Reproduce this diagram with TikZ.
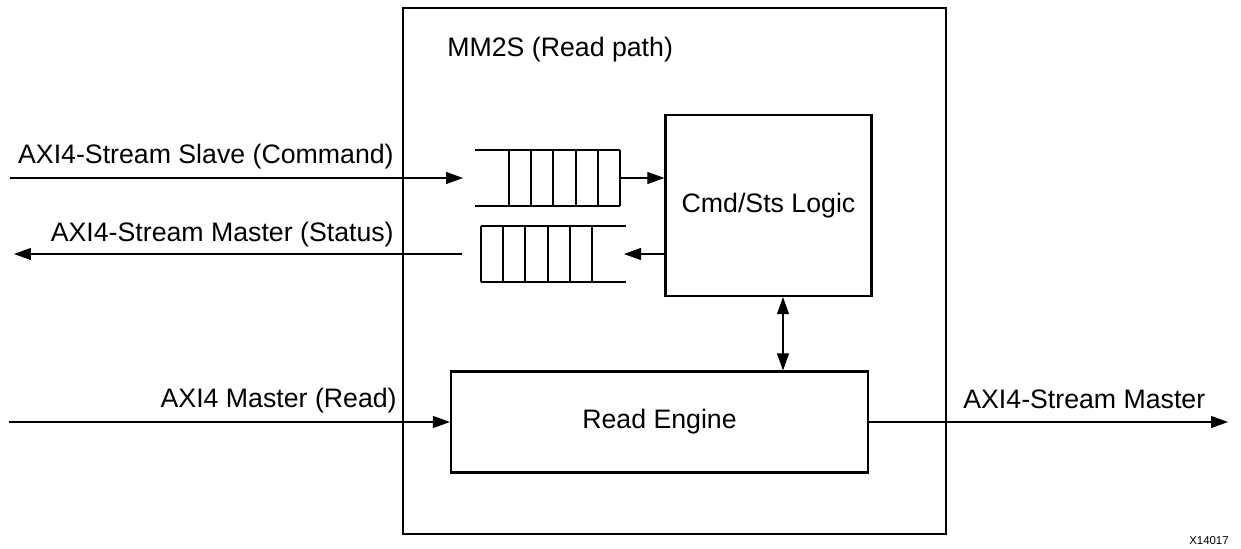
\documentclass[tikz,border=0pt]{standalone}
\usepackage{fontspec}
\setmainfont{Liberation Sans}
\usepackage{tikz}
\usetikzlibrary{arrows.meta, positioning, calc}

\begin{document}
\begin{tikzpicture}[x=0.02cm, y=-0.02cm,
    lbl/.style={font=\fontsize{15.2}{18}\selectfont, inner sep=0pt},
    blk/.style={draw, line width=1.3pt, lbl},
    sig/.style={line width=0.6pt, -{Triangle[length=3.4mm, width=2.4mm]}},
    fifo/.style={line width=1.1pt}]
        \useasboundingbox (0,0) rectangle (1241,548);

        % MM2S outer block
        \draw[line width=1.4pt] (403,8) rectangle (946,534);
        \node[lbl, anchor=west] (title) at (447,50) {MM2S (Read path)};

        \node[blk, minimum width=4.12cm, minimum height=3.62cm] (cmd) at (768.5,205.5) {Cmd/Sts Logic};
        \node[blk, minimum width=8.34cm, minimum height=2.02cm] (read) at (659.5,422) {Read Engine};

        % command fifo (open on the left)
        \draw[fifo] (475,150) -- (620,150) (475,206) -- (620,206);
        \foreach \x in {0,...,5}
            \draw[fifo] (509+22.2*\x,150) -- (509+22.2*\x,206);

        % status fifo (open on the right)
        \draw[fifo] (481,226) -- (626,226) (481,282) -- (626,282);
        \foreach \x in {0,...,5}
            \draw[fifo] (481+22.2*\x,226) -- (481+22.2*\x,282);

        \coordinate (cmdin) at (10,178);
        \coordinate (q1in) at (463,178);
        \coordinate (q1out) at (620,178);
        \coordinate (q2in) at (624,254);
        \coordinate (q2out) at (462,254);
        \coordinate (stsout) at (14,254);
        \coordinate (rdin) at (9,422);
        \coordinate (strout) at (1228,422);

        \draw[sig] (cmdin) -- (q1in);
        \draw[sig] (q1out) -- (q1out -| cmd.west);
        \draw[sig] (q2in -| cmd.west) -- (q2in);
        \draw[sig] (q2out) -- (stsout);
        \draw[sig] (rdin) -- (read.west);
        \draw[sig] (read.east) -- (strout);
        \draw[sig, {Triangle[length=3.4mm, width=2.4mm]}-{Triangle[length=3.4mm, width=2.4mm]}]
            ([xshift=0.29cm]cmd.south) -- ([xshift=0.29cm]cmd.south |- read.north);

        \node[lbl, anchor=east] (cmdlbl) at (394,157) {AXI4-Stream Slave (Command)};
        \node[lbl, anchor=east] (stslbl) at (394,235) {AXI4-Stream Master (Status)};
        \node[lbl, anchor=east] (rdlbl) at (397,401) {AXI4 Master (Read)};
        \node[lbl, anchor=west] (strlbl) at (963,399) {AXI4-Stream Master};
        \node[inner sep=0pt, anchor=east, font=\fontsize{6.5}{8}\selectfont] (fig) at (1229,541) {X14017};
\end{tikzpicture}
\end{document}
